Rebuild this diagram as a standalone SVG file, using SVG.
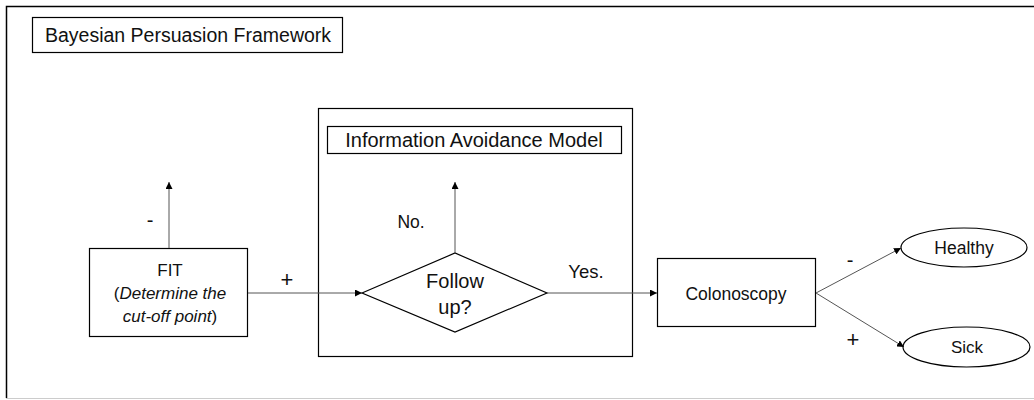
<svg xmlns="http://www.w3.org/2000/svg" width="1034" height="400" viewBox="0 0 1034 400">
<style>
text{font-family:"Liberation Sans","Noto Sans",sans-serif;fill:#111;}
.box{fill:#fff;stroke:#000;stroke-width:1.2;}
.con{stroke:#555;stroke-width:1;fill:none;marker-end:url(#ah);}
.lbl{font-size:16px;text-anchor:middle;}
</style>
<defs>
<marker id="ah" viewBox="0 0 10 10" refX="10" refY="5" markerWidth="7" markerHeight="7" markerUnits="userSpaceOnUse" orient="auto">
<path d="M0,0 L10,5 L0,10 z" fill="#000"/>
</marker>
</defs>
<rect width="1034" height="400" fill="#fff"/>
<g id="frame">
<path d="M1034,6.5 H6.5 V398" fill="none" stroke="#000" stroke-width="1.5"/>
<line x1="6" y1="398.5" x2="1034" y2="398.5" stroke="#ccc" stroke-width="1"/>
</g>
<g id="title">
<rect class="box" x="32.5" y="17.5" width="310" height="35"/>
<text x="188" y="42" class="lbl" style="font-size:19.5px">Bayesian Persuasion Framework</text>
</g>
<g id="iam">
<rect class="box" x="318.5" y="108.5" width="314" height="248"/>
<rect class="box" x="327.5" y="126.5" width="294" height="27"/>
<text x="474" y="147" class="lbl" style="font-size:20px">Information Avoidance Model</text>
</g>
<g id="fit">
<rect class="box" x="89.5" y="248.5" width="158" height="88"/>
<text x="170" y="276" class="lbl" style="font-size:17px">FIT</text>
<text x="170" y="299" class="lbl" style="font-size:17px">(<tspan font-style="italic">Determine the</tspan></text>
<text x="170" y="322" class="lbl" style="font-size:17px"><tspan font-style="italic">cut-off point</tspan>)</text>
</g>
<g id="followup">
<polygon class="box" points="362,293 455,253 547,293 455,332"/>
<text x="455" y="288" class="lbl" style="font-size:20px">Follow</text>
<text x="455" y="314" class="lbl" style="font-size:20px">up?</text>
</g>
<g id="colonoscopy">
<rect class="box" x="657.5" y="258.5" width="158" height="68"/>
<text x="736" y="300" class="lbl" style="font-size:17.5px">Colonoscopy</text>
</g>
<g id="healthy">
<ellipse class="box" cx="964" cy="247.5" rx="63" ry="19.5"/>
<text x="964" y="254" class="lbl" style="font-size:17.5px">Healthy</text>
</g>
<g id="sick">
<ellipse class="box" cx="966.5" cy="347" rx="63.5" ry="20"/>
<text x="967" y="353" class="lbl" style="font-size:17px">Sick</text>
</g>
<g id="connectors">
<line class="con" x1="169" y1="248" x2="169" y2="182"/>
<line class="con" x1="248" y1="293" x2="362" y2="293"/>
<line class="con" x1="455" y1="253" x2="455" y2="182"/>
<line class="con" x1="547" y1="293" x2="657" y2="293"/>
<line class="con" x1="816" y1="293" x2="901" y2="248"/>
<line class="con" x1="816" y1="293" x2="904" y2="347"/>
<text x="150" y="227" class="lbl" style="font-size:20px">-</text>
<text x="287" y="287" class="lbl" style="font-size:22px">+</text>
<text x="411" y="228" class="lbl" style="font-size:17.5px">No.</text>
<text x="586" y="278" class="lbl" style="font-size:18.5px">Yes.</text>
<text x="850" y="267" class="lbl" style="font-size:20px">-</text>
<text x="853" y="347" class="lbl" style="font-size:22px">+</text>
</g>
</svg>
